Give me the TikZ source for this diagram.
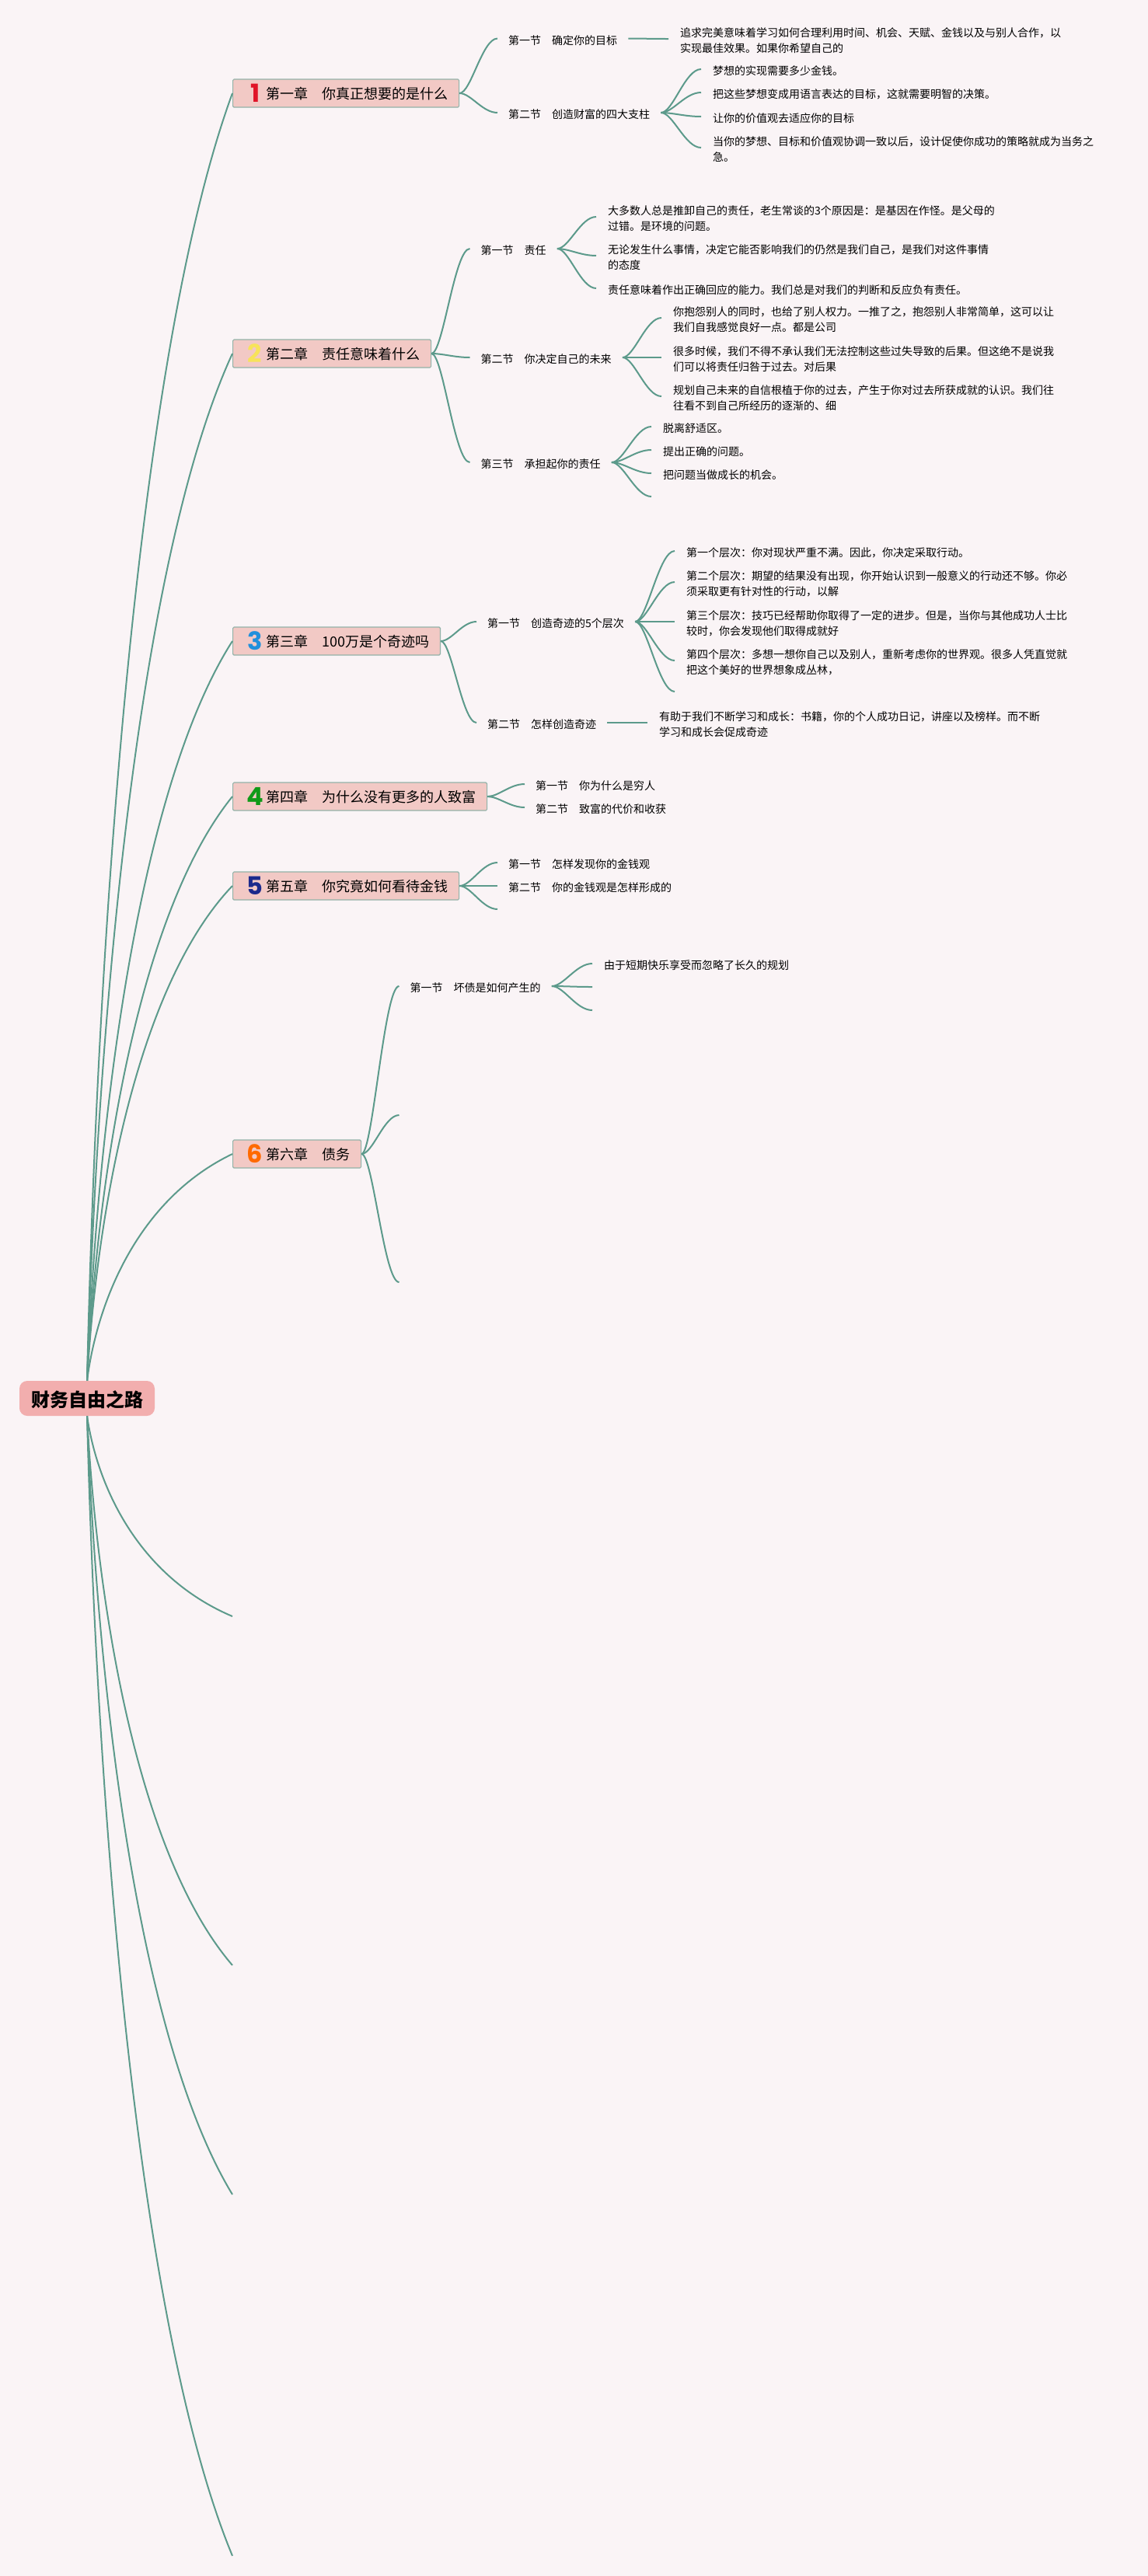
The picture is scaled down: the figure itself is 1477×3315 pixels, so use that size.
\documentclass[tikz,border=0pt]{standalone}
\usepackage{fontspec}
\usepackage{xcolor}
\setmainfont{Noto Sans CJK SC}
\newfontfamily\numfont{Poppins}
\usetikzlibrary{positioning}
\usetikzlibrary{calc}
\definecolor{pagebg}{HTML}{FAF4F6}
\definecolor{linegreen}{HTML}{5C9A8B}
\definecolor{chapfill}{HTML}{F2C9C5}
\definecolor{chapdraw}{HTML}{93B3A9}
\definecolor{rootfill}{HTML}{F2AEAE}
\newcommand{\chapnum}[2]{\makebox[29pt][c]{\raisebox{-4pt}{\numfont\bfseries\fontsize{32}{32}\selectfont\textcolor[HTML]{#1}{#2}}}}

\begin{document}
\begin{tikzpicture}[
            x=1pt, y=-1pt,
            rootnode/.style={rectangle, rounded corners=10pt, fill=rootfill, minimum width=174pt, minimum height=45pt, inner sep=0pt, text height=22pt, text depth=1pt, font=\bfseries\fontsize{24}{28}\selectfont},
            chapnode/.style={rectangle, rounded corners=1.5pt, draw=chapdraw, fill=chapfill, line width=1.2pt, anchor=west, minimum height=36pt, inner xsep=14pt, inner ysep=0pt, text height=18pt, text depth=3pt, font=\fontsize{18}{22}\selectfont},
            secnode/.style={anchor=west, inner xsep=14pt, inner ysep=1pt, font=\fontsize{14}{20}\selectfont},
            leafnode/.style={anchor=west, inner xsep=15pt, inner ysep=1pt, align=left, font=\fontsize{14}{20}\selectfont},
            rootlink/.style={to path={let \p1=(\tikztostart), \p2=(\tikztotarget) in .. controls ({\x1+0.07*(\x2-\x1)},{\y1+0.35*(\y2-\y1)}) and ({\x1+0.35*(\x2-\x1)},{\y1+0.8*(\y2-\y1)}) .. (\p2)}},
            curvelink/.style={to path={let \p1=([yshift=#1]\tikztostart), \p2=([yshift=2.5pt]\tikztotarget) in (\p1) .. controls ({\x1+0.3*(\x2-\x1)},\y1) and ({\x1+0.6*(\x2-\x1)},\y2) .. (\p2)}},
            curvelink/.default=2.5pt,
            branch/.style={draw=linegreen, line width=2pt},
            ]
            \path[fill=pagebg, use as bounding box] (0,0) rectangle (1477,3315);

            % centre and chapters
            \node[rootnode] (root) at (112,1799.5) {财务自由之路};
            \node[chapnode] (ch1) at (299,120) {\chapnum{E01428}{1}第一章　你真正想要的是什么};
            \node[chapnode] (ch2) at (299,455) {\chapnum{F7E35A}{2}第二章　责任意味着什么};
            \node[chapnode] (ch3) at (299,825) {\chapnum{2090DC}{3}第三章　100万是个奇迹吗};
            \node[chapnode] (ch4) at (299,1025) {\chapnum{109A18}{4}第四章　为什么没有更多的人致富};
            \node[chapnode] (ch5) at (299,1140) {\chapnum{1C2A8C}{5}第五章　你究竟如何看待金钱};
            \node[chapnode] (ch6) at (299,1485) {\chapnum{FF6A00}{6}第六章　债务};
            \coordinate (ch7) at (299,2080);
            \coordinate (ch8) at (299,2529);
            \coordinate (ch9) at (299,2824);
            \coordinate (ch10) at (299,3289);

            % chapter 1
            \node[secnode] (s11) at (640,52) {第一节　确定你的目标};
            \node[secnode] (s12) at (640,147.5) {第二节　创造财富的四大支柱};
            \node[leafnode] (l111) at (860,52.5) {追求完美意味着学习如何合理利用时间、机会、天赋、金钱以及与别人合作，以\\实现最佳效果。如果你希望自己的};
            \node[leafnode] (l121) at (902,91.5) {梦想的实现需要多少金钱。};
            \node[leafnode] (l122) at (902,121.5) {把这些梦想变成用语言表达的目标，这就需要明智的决策。};
            \node[leafnode] (l123) at (902,152.5) {让你的价值观去适应你的目标};
            \node[leafnode] (l124) at (902,192.5) {当你的梦想、目标和价值观协调一致以后，设计促使你成功的策略就成为当务之\\急。};

            % chapter 2
            \node[secnode] (s21) at (604.5,322.5) {第一节　责任};
            \node[secnode] (s22) at (604.5,462.5) {第二节　你决定自己的未来};
            \node[secnode] (s23) at (604.5,597.5) {第三节　承担起你的责任};
            \node[leafnode] (l211) at (767,281.5) {大多数人总是推卸自己的责任，老生常谈的3个原因是：是基因在作怪。是父母的\\过错。是环境的问题。};
            \node[leafnode] (l212) at (767,331.5) {无论发生什么事情，决定它能否影响我们的仍然是我们自己，是我们对这件事情\\的态度};
            \node[leafnode] (l213) at (767,373.5) {责任意味着作出正确回应的能力。我们总是对我们的判断和反应负有责任。};
            \node[leafnode] (l221) at (851,411.5) {你抱怨别人的同时，也给了别人权力。一推了之，抱怨别人非常简单，这可以让\\我们自我感觉良好一点。都是公司};
            \node[leafnode] (l222) at (851,462.5) {很多时候，我们不得不承认我们无法控制这些过失导致的后果。但这绝不是说我\\们可以将责任归咎于过去。对后果};
            \node[leafnode] (l223) at (851,512.5) {规划自己未来的自信根植于你的过去，产生于你对过去所获成就的认识。我们往\\往看不到自己所经历的逐渐的、细};
            \node[leafnode] (l231) at (838,551.5) {脱离舒适区。};
            \node[leafnode] (l232) at (838,581.5) {提出正确的问题。};
            \node[leafnode] (l233) at (838,611.5) {把问题当做成长的机会。};
            \coordinate (e234) at (838,641.5);

            % chapter 3
            \node[secnode] (s31) at (613,802.5) {第一节　创造奇迹的5个层次};
            \node[secnode] (s32) at (613,932.5) {第二节　怎样创造奇迹};
            \node[leafnode] (l311) at (868,711.5) {第一个层次：你对现状严重不满。因此，你决定采取行动。};
            \node[leafnode] (l312) at (868,751.5) {第二个层次：期望的结果没有出现，你开始认识到一般意义的行动还不够。你必\\须采取更有针对性的行动，以解};
            \node[leafnode] (l313) at (868,802.5) {第三个层次：技巧已经帮助你取得了一定的进步。但是，当你与其他成功人士比\\较时，你会发现他们取得成就好};
            \node[leafnode] (l314) at (868,852.5) {第四个层次：多想一想你自己以及别人，重新考虑你的世界观。很多人凭直觉就\\把这个美好的世界想象成丛林，};
            \coordinate (e315) at (868,892.5);
            \node[leafnode] (l321) at (833,932.5) {有助于我们不断学习和成长：书籍，你的个人成功日记，讲座以及榜样。而不断\\学习和成长会促成奇迹};

            % chapters 4 and 5
            \node[secnode] (s41) at (675,1011.5) {第一节　你为什么是穷人};
            \node[secnode] (s42) at (675,1041.5) {第二节　致富的代价和收获};
            \node[secnode] (s51) at (640,1112.5) {第一节　怎样发现你的金钱观};
            \node[secnode] (s52) at (640,1142.5) {第二节　你的金钱观是怎样形成的};
            \coordinate (e53) at (640,1172.5);

            % chapter 6
            \node[secnode] (s61) at (513.5,1271.5) {第一节　坏债是如何产生的};
            \coordinate (e62) at (513.5,1437.5);
            \coordinate (e63) at (513.5,1652.5);
            \node[leafnode] (l611) at (762,1242.5) {由于短期快乐享受而忽略了长久的规划};
            \coordinate (e612) at (762,1272.5);
            \coordinate (e613) at (762,1302.5);

            % connectors
            \foreach \target in {ch1.west, ch2.west, ch3.west, ch4.west, ch5.west, ch6.west}
                \draw[branch] (root.north) to[rootlink] (\target);
            \foreach \target in {ch7, ch8, ch9, ch10}
                \draw[branch] (root.south) to[rootlink] (\target);

            \foreach \target in {s11.west, s12.west}
                \draw[branch] (ch1.east) to[curvelink=0pt] (\target);
            \foreach \target in {s21.west, s22.west, s23.west}
                \draw[branch] (ch2.east) to[curvelink=0pt] (\target);
            \foreach \target in {s31.west, s32.west}
                \draw[branch] (ch3.east) to[curvelink=0pt] (\target);
            \foreach \target in {s41.west, s42.west}
                \draw[branch] (ch4.east) to[curvelink=0pt] (\target);
            \foreach \target in {s51.west, s52.west, e53}
                \draw[branch] (ch5.east) to[curvelink=0pt] (\target);
            \foreach \target in {s61.west, e62, e63}
                \draw[branch] (ch6.east) to[curvelink=0pt] (\target);

            \draw[branch] (s11.east) to[curvelink] (l111.west);
            \foreach \target in {l121.west, l122.west, l123.west, l124.west}
                \draw[branch] (s12.east) to[curvelink] (\target);
            \foreach \target in {l211.west, l212.west, l213.west}
                \draw[branch] (s21.east) to[curvelink] (\target);
            \foreach \target in {l221.west, l222.west, l223.west}
                \draw[branch] (s22.east) to[curvelink] (\target);
            \foreach \target in {l231.west, l232.west, l233.west, e234}
                \draw[branch] (s23.east) to[curvelink] (\target);
            \foreach \target in {l311.west, l312.west, l313.west, l314.west, e315}
                \draw[branch] (s31.east) to[curvelink] (\target);
            \draw[branch] (s32.east) to[curvelink] (l321.west);
            \foreach \target in {l611.west, e612, e613}
                \draw[branch] (s61.east) to[curvelink] (\target);
        \end{tikzpicture}
\end{document}
